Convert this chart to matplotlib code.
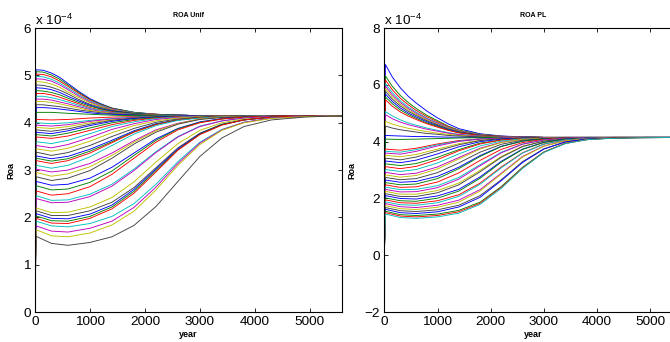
import numpy as np
import matplotlib
matplotlib.use('Agg')
import matplotlib.pyplot as plt
from cycler import cycler

plt.rcParams['font.family'] = ['Liberation Sans', 'DejaVu Sans']
plt.rcParams['mathtext.fontset'] = 'custom'
plt.rcParams['mathtext.rm'] = 'Liberation Sans'
plt.rcParams['mathtext.it'] = 'Liberation Sans:italic'
plt.rcParams['mathtext.bf'] = 'Liberation Sans:bold'

# sampled years; every curve starts from 0 at year 0
years_above = [0, 20, 150, 300, 450, 600, 800, 1000, 1200, 1400, 1800, 2200, 2600, 3000, 5580]
years_below = [0, 20, 300, 600, 1000, 1400, 1800, 2200, 2600, 3000, 3400, 3800, 4300, 4900, 5580]
start_roa = 0.0
roa_unit = 'x 10$^{-4}$'

# ROA Unif, curves starting above the steady state (units of 1e-4), on years_above
unif_above = [
    [5.12, 5.11, 5.05, 4.96, 4.83, 4.66, 4.51, 4.40, 4.31, 4.22, 4.18, 4.16, 4.15, 4.15],
    [5.08, 5.07, 5.01, 4.92, 4.80, 4.64, 4.49, 4.39, 4.31, 4.22, 4.18, 4.16, 4.15, 4.15],
    [5.03, 5.02, 4.97, 4.88, 4.77, 4.62, 4.48, 4.38, 4.30, 4.21, 4.18, 4.16, 4.15, 4.15],
    [4.98, 4.97, 4.92, 4.84, 4.73, 4.59, 4.46, 4.37, 4.29, 4.21, 4.17, 4.16, 4.15, 4.15],
    [4.93, 4.92, 4.88, 4.80, 4.70, 4.56, 4.44, 4.35, 4.28, 4.20, 4.17, 4.16, 4.15, 4.15],
    [4.87, 4.86, 4.82, 4.75, 4.65, 4.53, 4.42, 4.34, 4.27, 4.20, 4.17, 4.16, 4.15, 4.15],
    [4.80, 4.79, 4.75, 4.69, 4.61, 4.49, 4.39, 4.32, 4.26, 4.20, 4.17, 4.16, 4.15, 4.15],
    [4.74, 4.73, 4.70, 4.64, 4.56, 4.46, 4.37, 4.30, 4.25, 4.19, 4.17, 4.16, 4.15, 4.15],
    [4.68, 4.67, 4.64, 4.59, 4.52, 4.43, 4.35, 4.29, 4.24, 4.19, 4.17, 4.16, 4.15, 4.15],
    [4.62, 4.62, 4.59, 4.54, 4.48, 4.40, 4.32, 4.27, 4.23, 4.18, 4.16, 4.15, 4.15, 4.15],
    [4.56, 4.56, 4.53, 4.49, 4.44, 4.37, 4.30, 4.26, 4.22, 4.18, 4.16, 4.15, 4.15, 4.15],
    [4.50, 4.50, 4.48, 4.44, 4.40, 4.34, 4.28, 4.24, 4.21, 4.17, 4.16, 4.15, 4.15, 4.15],
    [4.45, 4.45, 4.43, 4.40, 4.36, 4.31, 4.26, 4.23, 4.20, 4.17, 4.16, 4.15, 4.15, 4.15],
    [4.38, 4.38, 4.36, 4.34, 4.31, 4.27, 4.24, 4.21, 4.19, 4.17, 4.16, 4.15, 4.15, 4.15],
    [4.32, 4.32, 4.31, 4.29, 4.27, 4.24, 4.21, 4.19, 4.18, 4.16, 4.15, 4.15, 4.15, 4.15],
    [4.22, 4.22, 4.22, 4.21, 4.20, 4.19, 4.18, 4.17, 4.16, 4.15, 4.15, 4.15, 4.15, 4.15],
]

# ROA Unif, curves starting below the steady state, on years_below
unif_below = [
    [1.60, 1.45, 1.41, 1.47, 1.59, 1.83, 2.23, 2.76, 3.29, 3.68, 3.92, 4.06, 4.12, 4.15],
    [1.74, 1.61, 1.59, 1.67, 1.84, 2.13, 2.58, 3.10, 3.54, 3.84, 4.00, 4.09, 4.13, 4.15],
    [1.82, 1.71, 1.69, 1.77, 1.92, 2.21, 2.64, 3.14, 3.57, 3.85, 4.01, 4.10, 4.13, 4.15],
    [1.92, 1.82, 1.80, 1.87, 2.02, 2.29, 2.70, 3.18, 3.59, 3.86, 4.01, 4.10, 4.13, 4.15],
    [1.98, 1.88, 1.87, 1.98, 2.18, 2.51, 2.96, 3.42, 3.75, 3.95, 4.06, 4.12, 4.14, 4.15],
    [2.03, 1.93, 1.92, 2.02, 2.22, 2.55, 2.99, 3.43, 3.76, 3.96, 4.06, 4.12, 4.14, 4.15],
    [2.08, 1.98, 1.97, 2.07, 2.26, 2.59, 3.02, 3.45, 3.77, 3.96, 4.06, 4.12, 4.14, 4.15],
    [2.14, 2.04, 2.04, 2.14, 2.32, 2.63, 3.05, 3.47, 3.78, 3.97, 4.06, 4.12, 4.14, 4.15],
    [2.20, 2.10, 2.11, 2.22, 2.42, 2.75, 3.17, 3.56, 3.84, 4.00, 4.08, 4.12, 4.14, 4.15],
    [2.40, 2.31, 2.32, 2.44, 2.66, 2.99, 3.37, 3.70, 3.92, 4.04, 4.10, 4.13, 4.14, 4.15],
    [2.46, 2.36, 2.37, 2.49, 2.70, 3.02, 3.39, 3.71, 3.93, 4.04, 4.10, 4.13, 4.14, 4.15],
    [2.56, 2.47, 2.50, 2.65, 2.91, 3.25, 3.59, 3.85, 4.00, 4.08, 4.12, 4.14, 4.15, 4.15],
    [2.67, 2.58, 2.60, 2.74, 2.98, 3.31, 3.63, 3.87, 4.01, 4.08, 4.12, 4.14, 4.15, 4.15],
    [2.76, 2.68, 2.70, 2.83, 3.06, 3.36, 3.66, 3.88, 4.02, 4.09, 4.12, 4.14, 4.15, 4.15],
    [2.86, 2.78, 2.83, 2.99, 3.25, 3.55, 3.80, 3.97, 4.07, 4.11, 4.13, 4.14, 4.15, 4.15],
    [2.95, 2.87, 2.92, 3.07, 3.31, 3.59, 3.83, 3.98, 4.08, 4.12, 4.13, 4.14, 4.15, 4.15],
    [3.02, 2.96, 3.00, 3.14, 3.36, 3.62, 3.85, 3.99, 4.08, 4.12, 4.13, 4.14, 4.15, 4.15],
    [3.10, 3.04, 3.10, 3.28, 3.52, 3.76, 3.94, 4.05, 4.10, 4.13, 4.14, 4.15, 4.15, 4.15],
    [3.20, 3.14, 3.20, 3.36, 3.58, 3.80, 3.96, 4.06, 4.11, 4.13, 4.14, 4.15, 4.15, 4.15],
    [3.25, 3.19, 3.24, 3.40, 3.60, 3.81, 3.97, 4.06, 4.11, 4.13, 4.14, 4.15, 4.15, 4.15],
    [3.30, 3.24, 3.29, 3.44, 3.63, 3.83, 3.98, 4.06, 4.11, 4.13, 4.14, 4.15, 4.15, 4.15],
    [3.38, 3.31, 3.37, 3.52, 3.71, 3.88, 4.01, 4.08, 4.12, 4.14, 4.15, 4.15, 4.15, 4.15],
    [3.45, 3.40, 3.46, 3.61, 3.79, 3.94, 4.04, 4.10, 4.13, 4.14, 4.15, 4.15, 4.15, 4.15],
    [3.52, 3.47, 3.54, 3.69, 3.86, 3.98, 4.07, 4.11, 4.13, 4.14, 4.15, 4.15, 4.15, 4.15],
    [3.60, 3.56, 3.63, 3.77, 3.92, 4.02, 4.09, 4.12, 4.14, 4.14, 4.15, 4.15, 4.15, 4.15],
    [3.70, 3.67, 3.72, 3.84, 3.96, 4.05, 4.10, 4.13, 4.14, 4.15, 4.15, 4.15, 4.15, 4.15],
    [3.75, 3.72, 3.78, 3.89, 4.00, 4.07, 4.11, 4.13, 4.14, 4.15, 4.15, 4.15, 4.15, 4.15],
    [3.80, 3.77, 3.83, 3.94, 4.03, 4.09, 4.12, 4.14, 4.15, 4.15, 4.15, 4.15, 4.15, 4.15],
    [3.85, 3.82, 3.87, 3.97, 4.05, 4.10, 4.13, 4.14, 4.15, 4.15, 4.15, 4.15, 4.15, 4.15],
    [3.90, 3.88, 3.92, 4.00, 4.06, 4.10, 4.13, 4.14, 4.15, 4.15, 4.15, 4.15, 4.15, 4.15],
    [3.95, 3.93, 3.96, 4.03, 4.08, 4.11, 4.13, 4.14, 4.15, 4.15, 4.15, 4.15, 4.15, 4.15],
    [4.00, 3.98, 4.00, 4.05, 4.09, 4.12, 4.14, 4.15, 4.15, 4.15, 4.15, 4.15, 4.15, 4.15],
    [4.07, 4.06, 4.07, 4.10, 4.12, 4.13, 4.14, 4.15, 4.15, 4.15, 4.15, 4.15, 4.15, 4.15],
]

# ROA PL, curves starting above the steady state, on years_above
pl_above = [
    [6.72, 6.28, 5.90, 5.60, 5.36, 5.08, 4.84, 4.63, 4.46, 4.28, 4.20, 4.17, 4.15, 4.15],
    [6.32, 5.95, 5.63, 5.38, 5.17, 4.93, 4.74, 4.55, 4.41, 4.26, 4.19, 4.17, 4.15, 4.15],
    [6.18, 5.83, 5.53, 5.30, 5.10, 4.88, 4.70, 4.53, 4.39, 4.25, 4.19, 4.17, 4.15, 4.15],
    [6.05, 5.73, 5.44, 5.22, 5.04, 4.83, 4.66, 4.50, 4.38, 4.25, 4.19, 4.17, 4.15, 4.15],
    [5.96, 5.65, 5.38, 5.17, 5.00, 4.80, 4.64, 4.48, 4.37, 4.24, 4.19, 4.16, 4.15, 4.15],
    [5.87, 5.58, 5.32, 5.12, 4.96, 4.77, 4.61, 4.47, 4.36, 4.24, 4.18, 4.16, 4.15, 4.15],
    [5.78, 5.50, 5.26, 5.07, 4.92, 4.74, 4.59, 4.45, 4.35, 4.23, 4.18, 4.16, 4.15, 4.15],
    [5.68, 5.42, 5.19, 5.01, 4.87, 4.70, 4.56, 4.43, 4.33, 4.23, 4.18, 4.16, 4.15, 4.15],
    [5.58, 5.34, 5.12, 4.96, 4.82, 4.66, 4.54, 4.41, 4.32, 4.22, 4.18, 4.16, 4.15, 4.15],
    [5.48, 5.25, 5.05, 4.90, 4.78, 4.63, 4.51, 4.40, 4.31, 4.22, 4.18, 4.16, 4.15, 4.15],
    [5.06, 4.91, 4.77, 4.66, 4.58, 4.48, 4.40, 4.32, 4.26, 4.20, 4.17, 4.16, 4.15, 4.15],
    [4.95, 4.81, 4.69, 4.60, 4.53, 4.44, 4.37, 4.30, 4.25, 4.19, 4.17, 4.16, 4.15, 4.15],
    [4.72, 4.62, 4.54, 4.47, 4.42, 4.36, 4.30, 4.26, 4.22, 4.18, 4.16, 4.15, 4.15, 4.15],
    [4.55, 4.48, 4.42, 4.38, 4.34, 4.29, 4.26, 4.22, 4.20, 4.17, 4.16, 4.15, 4.15, 4.15],
    [4.22, 4.21, 4.20, 4.19, 4.18, 4.18, 4.17, 4.16, 4.16, 4.15, 4.15, 4.15, 4.15, 4.15],
]

# ROA PL, curves starting below the steady state, on years_below
pl_below = [
    [1.45, 1.33, 1.30, 1.35, 1.48, 1.79, 2.36, 3.06, 3.62, 3.93, 4.07, 4.12, 4.14, 4.15],
    [1.50, 1.38, 1.35, 1.40, 1.53, 1.83, 2.39, 3.08, 3.63, 3.94, 4.07, 4.13, 4.14, 4.15],
    [1.55, 1.43, 1.40, 1.45, 1.58, 1.87, 2.42, 3.10, 3.64, 3.94, 4.07, 4.13, 4.14, 4.15],
    [1.62, 1.50, 1.47, 1.53, 1.70, 2.04, 2.63, 3.27, 3.74, 3.99, 4.09, 4.13, 4.15, 4.15],
    [1.68, 1.57, 1.54, 1.60, 1.76, 2.10, 2.66, 3.30, 3.75, 3.99, 4.09, 4.13, 4.15, 4.15],
    [1.75, 1.64, 1.61, 1.69, 1.87, 2.26, 2.86, 3.46, 3.84, 4.03, 4.10, 4.14, 4.15, 4.15],
    [1.82, 1.71, 1.68, 1.76, 1.94, 2.31, 2.89, 3.48, 3.85, 4.03, 4.11, 4.14, 4.15, 4.15],
    [1.88, 1.78, 1.76, 1.85, 2.07, 2.50, 3.08, 3.60, 3.91, 4.06, 4.12, 4.14, 4.15, 4.15],
    [1.95, 1.85, 1.83, 1.92, 2.13, 2.54, 3.11, 3.61, 3.92, 4.06, 4.12, 4.14, 4.15, 4.15],
    [2.02, 1.92, 1.90, 2.01, 2.26, 2.71, 3.28, 3.73, 3.97, 4.08, 4.12, 4.14, 4.15, 4.15],
    [2.10, 2.00, 1.98, 2.09, 2.32, 2.76, 3.31, 3.74, 3.98, 4.09, 4.13, 4.14, 4.15, 4.15],
    [2.17, 2.07, 2.07, 2.20, 2.48, 2.94, 3.45, 3.83, 4.02, 4.10, 4.13, 4.15, 4.15, 4.15],
    [2.25, 2.15, 2.15, 2.28, 2.54, 2.99, 3.48, 3.84, 4.02, 4.10, 4.13, 4.15, 4.15, 4.15],
    [2.32, 2.23, 2.24, 2.38, 2.68, 3.15, 3.61, 3.91, 4.06, 4.12, 4.14, 4.15, 4.15, 4.15],
    [2.40, 2.31, 2.32, 2.45, 2.74, 3.19, 3.63, 3.92, 4.06, 4.12, 4.14, 4.15, 4.15, 4.15],
    [2.48, 2.39, 2.41, 2.58, 2.90, 3.34, 3.73, 3.97, 4.08, 4.13, 4.14, 4.15, 4.15, 4.15],
    [2.56, 2.48, 2.51, 2.70, 3.05, 3.48, 3.83, 4.02, 4.10, 4.13, 4.14, 4.15, 4.15, 4.15],
    [2.65, 2.57, 2.60, 2.78, 3.10, 3.51, 3.84, 4.02, 4.10, 4.13, 4.14, 4.15, 4.15, 4.15],
    [2.74, 2.66, 2.70, 2.91, 3.25, 3.63, 3.91, 4.05, 4.11, 4.14, 4.15, 4.15, 4.15, 4.15],
    [2.83, 2.75, 2.81, 3.04, 3.39, 3.74, 3.97, 4.08, 4.12, 4.14, 4.15, 4.15, 4.15, 4.15],
    [2.92, 2.84, 2.89, 3.11, 3.44, 3.77, 3.98, 4.08, 4.13, 4.14, 4.15, 4.15, 4.15, 4.15],
    [3.02, 2.95, 3.02, 3.25, 3.57, 3.85, 4.02, 4.10, 4.13, 4.14, 4.15, 4.15, 4.15, 4.15],
    [3.12, 3.05, 3.13, 3.37, 3.68, 3.92, 4.06, 4.11, 4.14, 4.15, 4.15, 4.15, 4.15, 4.15],
    [3.22, 3.16, 3.23, 3.45, 3.72, 3.95, 4.06, 4.12, 4.14, 4.15, 4.15, 4.15, 4.15, 4.15],
    [3.32, 3.26, 3.35, 3.57, 3.82, 4.00, 4.09, 4.13, 4.14, 4.15, 4.15, 4.15, 4.15, 4.15],
    [3.42, 3.36, 3.46, 3.68, 3.89, 4.04, 4.11, 4.13, 4.14, 4.15, 4.15, 4.15, 4.15, 4.15],
    [3.52, 3.47, 3.55, 3.74, 3.93, 4.05, 4.11, 4.14, 4.15, 4.15, 4.15, 4.15, 4.15, 4.15],
    [3.60, 3.56, 3.66, 3.85, 4.01, 4.09, 4.13, 4.14, 4.15, 4.15, 4.15, 4.15, 4.15, 4.15],
    [3.66, 3.63, 3.72, 3.89, 4.02, 4.10, 4.13, 4.14, 4.15, 4.15, 4.15, 4.15, 4.15, 4.15],
    [3.74, 3.70, 3.77, 3.92, 4.04, 4.10, 4.13, 4.14, 4.15, 4.15, 4.15, 4.15, 4.15, 4.15],
    [4.09, 4.08, 4.09, 4.11, 4.13, 4.14, 4.15, 4.15, 4.15, 4.15, 4.15, 4.15, 4.15, 4.15],
]

# old matlab ColorOrder
matlab_colors = [(0, 0, 1), (0, 0.5, 0), (1, 0, 0), (0, 0.75, 0.75),
                 (0.75, 0, 0.75), (0.75, 0.75, 0), (0.25, 0.25, 0.25)]


def draw_panel(ax, above, below, title, ylim, yticks, ylab_x):
    ax.set_prop_cycle(cycler(color=matlab_colors))
    for row in above:
        ax.plot(years_above, [start_roa] + row, lw=0.65)
    # lower curves drawn top-down so the deepest one comes last
    for row in below[::-1]:
        ax.plot(years_below, [start_roa] + row, lw=0.65)
    ax.set_xlim(0, 5580)
    ax.set_ylim(*ylim)
    ax.set_xticks([0, 1000, 2000, 3000, 4000, 5000])
    ax.set_yticks(yticks)
    ax.tick_params(direction='in', top=True, right=True, length=3, width=0.6,
                   labelsize=9.7, pad=3)
    for s in ax.spines.values():
        s.set_linewidth(0.8)
    ax.set_title(title, fontsize=5, fontweight='bold', pad=8)
    ax.set_xlabel('year', fontsize=6.5, fontweight='bold')
    ax.set_ylabel('Roa', fontsize=6.5, fontweight='bold')
    ax.xaxis.set_label_coords(0.5, -0.062)
    ax.yaxis.set_label_coords(ylab_x, 0.5)
    ax.text(0.0, 1.011, roa_unit, transform=ax.transAxes, ha='left',
            va='baseline', fontsize=9.7)


fig = plt.figure(figsize=(6.7, 3.42), dpi=100)
ax1 = fig.add_axes([0.0522, 0.0877, 0.458, 0.830])
ax2 = fig.add_axes([0.5736, 0.0877, 0.443, 0.830])

draw_panel(ax1, unif_above, unif_below, 'ROA Unif', (0, 6), range(0, 7), -0.065)
draw_panel(ax2, pl_above, pl_below, 'ROA PL', (-2, 8), range(-2, 9, 2), -0.095)

fig.savefig('out.png', dpi=100)
